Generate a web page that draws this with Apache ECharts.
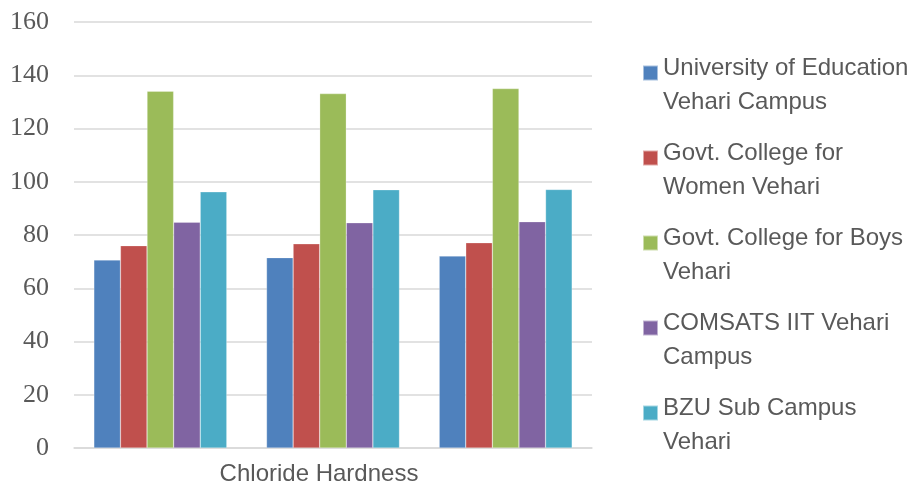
<!DOCTYPE html>
<html>
<head>
<meta charset="utf-8">
<script src="https://cdn.jsdelivr.net/npm/echarts@6/dist/echarts.min.js"></script>
<style>html,body{margin:0;padding:0;background:#fff;}#c{width:917px;height:482px;}</style>
</head>
<body>
<div id="c"></div>
<script>
var categories = ['', 'Chloride Hardness', ''];
var seriesNames = [
  'University of Education\nVehari Campus',
  'Govt. College for\nWomen Vehari',
  'Govt. College for Boys\nVehari',
  'COMSATS IIT Vehari\nCampus',
  'BZU Sub Campus\nVehari'
];
var uoeValues = [70.6, 71.5, 72.1];
var gcwValues = [76.0, 76.7, 77.1];
var gcbValues = [134.0, 133.1, 135.0];
var comsatsValues = [84.8, 84.6, 85.0];
var bzuValues = [96.2, 97.0, 97.1];
var yTicks = { min: 0, max: 160, interval: 20 };
var colors = ['#4f81bd', '#c0504d', '#9bbb59', '#8064a2', '#4bacc6'];

var allValues = [uoeValues, gcwValues, gcbValues, comsatsValues, bzuValues];
var chart = echarts.init(document.getElementById('c'));
chart.setOption({
  animation: false,
  color: colors,
  grid: { left: 74, right: 325, top: 22, bottom: 34, containLabel: false, outerBoundsMode: 'none' },
  legend: {
    orient: 'vertical',
    left: 642,
    top: 34,
    padding: 0,
    itemWidth: 15,
    itemHeight: 15,
    itemGap: 5,
    icon: 'rect',
    data: seriesNames,
    formatter: function (name) {
      var lines = name.split('\n');
      return '{s| }\n' + lines.map(function (l) { return '{t|' + l + '}'; }).join('\n');
    },
    textStyle: {
      fontFamily: 'Liberation Sans, Arial, sans-serif',
      fontSize: 24,
      color: '#595959',
      rich: {
        s: { fontSize: 10, lineHeight: 24, color: '#595959' },
        t: { fontFamily: 'Liberation Sans, Arial, sans-serif', fontSize: 24, lineHeight: 34, color: '#595959' }
      }
    }
  },
  xAxis: {
    type: 'category',
    data: categories,
    axisLine: { show: true, lineStyle: { color: '#d9d9d9', width: 1.5 } },
    axisTick: { show: false },
    axisLabel: {
      interval: 0,
      margin: 14,
      fontFamily: 'Liberation Sans, Arial, sans-serif',
      fontSize: 24,
      color: '#595959',
      padding: [0, 28, 0, 0]
    }
  },
  yAxis: {
    type: 'value',
    min: yTicks.min,
    max: yTicks.max,
    interval: yTicks.interval,
    axisLine: { show: false },
    axisTick: { show: false },
    splitLine: { lineStyle: { color: '#d9d9d9', width: 1.5 } },
    axisLabel: {
      margin: 25,
      fontFamily: 'Liberation Serif, Times New Roman, serif',
      fontSize: 26,
      color: '#595959'
    }
  },
  series: seriesNames.map(function (n, i) {
    return {
      name: n,
      type: 'bar',
      data: allValues[i],
      barGap: '0%',
      barCategoryGap: '23%',
      itemStyle: { borderColor: 'rgba(255,255,255,0.5)', borderWidth: 0.5 }
    };
  })
});
</script>
</body>
</html>
